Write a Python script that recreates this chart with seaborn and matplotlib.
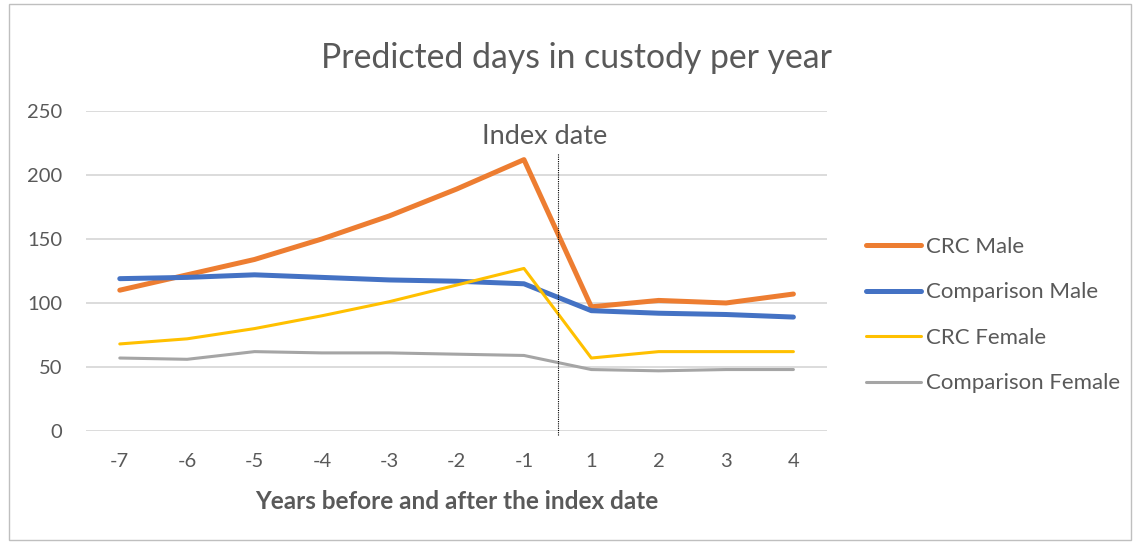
import numpy as np
import pandas as pd
import matplotlib
matplotlib.use("Agg")
import matplotlib.pyplot as plt
import seaborn as sns
from matplotlib.patches import Rectangle

years = ["-7", "-6", "-5", "-4", "-3", "-2", "-1", "1", "2", "3", "4"]
crc_male = [110, 122, 134, 150, 168, 189, 212, 97, 102, 100, 107]
comparison_male = [119, 120, 122, 120, 118, 117, 115, 94, 92, 91, 89]
crc_female = [68, 72, 80, 90, 101, 114, 127, 57, 62, 62, 62]
comparison_female = [57, 56, 62, 61, 61, 60, 59, 48, 47, 48, 48]
series_names = ["CRC Male", "Comparison Male", "CRC Female", "Comparison Female"]

rows = []
for name, vals in zip(series_names, [crc_male, comparison_male, crc_female, comparison_female]):
    for i, v in enumerate(vals):
        rows.append({"pos": i, "value": v, "series": name})
df = pd.DataFrame(rows)

sns.set_theme(style="white")
plt.rcParams['font.family'] = ['Lato', 'DejaVu Sans']
text_col = "#595959"
palette = {"CRC Male": "#ED7D31", "Comparison Male": "#4472C4",
           "CRC Female": "#FFC000", "Comparison Female": "#A5A5A5"}
widths = {"CRC Male": 3.6, "Comparison Male": 3.6,
          "CRC Female": 2.2, "Comparison Female": 2.2}

fig = plt.figure(figsize=(11.33, 5.43), dpi=100)
ax = fig.add_axes([0.076, 0.2063, 0.654, 0.5893])

for name in series_names:
    sns.lineplot(data=df[df["series"] == name], x="pos", y="value", ax=ax,
                 color=palette[name], linewidth=widths[name], label=name,
                 solid_capstyle="round", zorder=3)

ax.set_xlim(-0.5, 10.5)
ax.set_ylim(0, 250)
ax.set_yticks(range(0, 251, 50))
ax.set_xticks(range(len(years)))
ax.set_xticklabels(years)
ax.yaxis.grid(True, color="#D9D9D9", linewidth=1.3)
ax.xaxis.grid(False)
for s in ax.spines.values():
    s.set_visible(False)
ax.tick_params(axis="both", colors=text_col, labelsize=14.5, length=0)
ax.tick_params(axis="y", pad=17)
ax.tick_params(axis="x", pad=16)
ax.set_ylabel("")
ax.set_xlabel("Years before and after the index date", fontsize=17.5,
              fontweight="bold", color=text_col, labelpad=14)

# index date marker
ax.vlines(6.5, -3, 217, colors="black", linestyles=(0, (1, 1)), linewidth=0.8,
          clip_on=False, zorder=4)
ax.text(6.3, 230, "Index date", ha="center", va="center", fontsize=19.5,
        color=text_col)

fig.text(0.509, 0.893, "Predicted days in custody per year", ha="center",
         va="center", fontsize=24.3, color=text_col)

leg = ax.legend(loc="center left", bbox_to_anchor=(1.025, 0.362), frameon=False,
                fontsize=16, handlelength=2.5, handletextpad=0.2,
                labelspacing=1.15, labelcolor=text_col)

fig.patches.append(Rectangle((0.008, 0.006), 0.99, 0.986, transform=fig.transFigure,
                             fill=False, edgecolor="#BFBFBF", linewidth=1))

fig.savefig("out.png", dpi=100)
